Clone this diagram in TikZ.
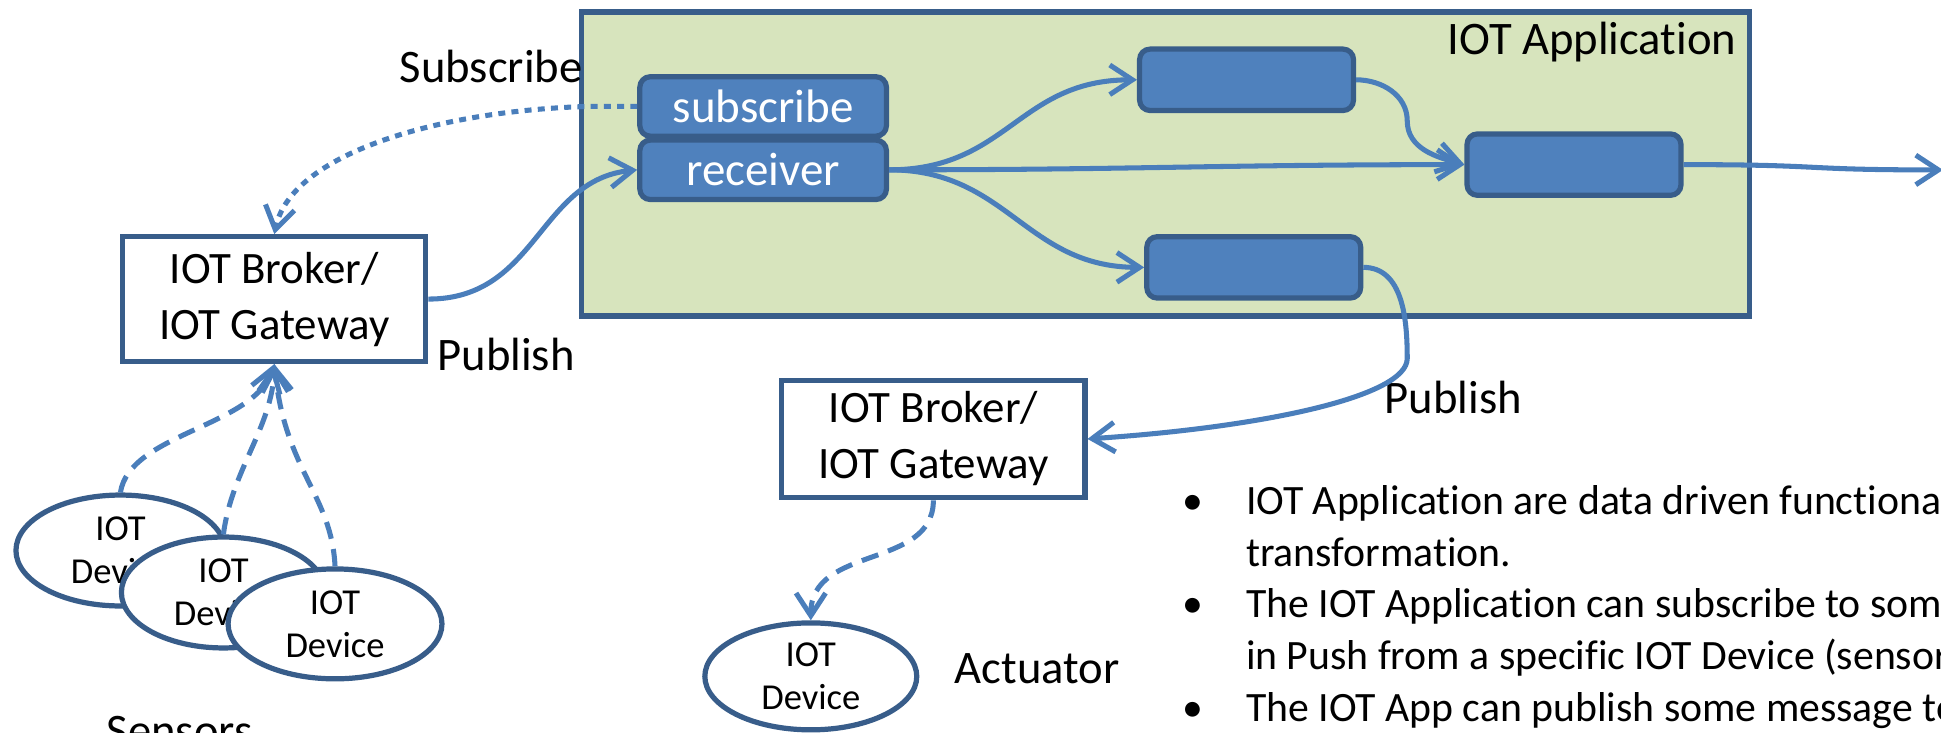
\documentclass[tikz,border=0pt]{standalone}
\usepackage{fontspec}
\setmainfont[Ligatures=NoCommon]{Carlito}
\usepackage{tikz}
\usetikzlibrary{
  arrows.meta, % for the open arrow heads
  positioning,
  shapes.geometric}
\definecolor{appgreen}{HTML}{D7E4BD}
\definecolor{boxblue}{HTML}{4F81BD}
\definecolor{rimblue}{HTML}{385D8A}
\definecolor{wireblue}{HTML}{4A7EBB}
\tikzstyle{appbox} = [draw=rimblue, fill=appgreen, line width=1.5pt, minimum width=11.79cm, minimum height=3.07cm]
\tikzstyle{stage} = [draw=rimblue, fill=boxblue, line width=1.5pt, rounded corners=3pt, minimum width=2.16cm, minimum height=0.62cm, text=white, font=\fontsize{13.5}{16}\selectfont]
\tikzstyle{broker} = [draw=rimblue, fill=white, line width=1.5pt, align=center, minimum width=3.06cm, font=\fontsize{12.9}{16.1}\selectfont]
\tikzstyle{device} = [ellipse, draw=rimblue, fill=white, line width=1.5pt, align=center, inner sep=0pt, font=\fontsize{10.5}{12.3}\selectfont]
\tikzstyle{tag} = [font=\fontsize{13.4}{16}\selectfont, anchor=base, inner sep=0pt]
\tikzstyle{bullet} = [font=\fontsize{12}{14.8}\selectfont, anchor=base west, inner sep=0pt]
\tikzstyle{wire} = [draw=wireblue, line width=1.45pt, ->]
\tikzstyle{dotwire} = [wire, dash pattern=on 2pt off 1.8pt]
\tikzstyle{dashwire} = [wire, dash pattern=on 5pt off 3pt]

\begin{document}
\begin{tikzpicture}[ node distance=0.64cm, >={Straight Barb[length=6.5pt,width=8.5pt]} ]
\useasboundingbox (0,0) rectangle (19.6,-7.4);
\clip (0,0) rectangle (19.6,-7.4);

% the application with its stages
\node[appbox] (app) at (11.77,-1.656) {};
\node[tag, anchor=base east] (apptitle) at (17.54,-0.555) {IOT Application};
\node[stage, minimum width=2.49cm, minimum height=0.6cm] (sub) at (7.706,-1.075) {subscribe};
\node[stage, minimum width=2.49cm, minimum height=0.6cm, below of=sub] (recv) {receiver};
\node[stage] (stepa) at (12.5875,-0.806) {};
\node[stage] (stepb) at (12.66,-2.70) {};
\node[stage] (stepc) at (15.894,-1.6625) {};
\coordinate (feed) at (19.62,-1.716);

% brokers and devices
\node[broker, minimum height=1.26cm] (broker1) at (2.77,-3.02) {IOT Broker/\\IOT Gateway};
\node[broker, minimum height=1.18cm] (broker2) at (9.425,-4.4325) {IOT Broker/\\IOT Gateway};
\node[device, minimum width=2.11cm, minimum height=1.12cm] (dev1) at (1.216,-5.559) {IOT\\Device};
\node[device, minimum width=2.06cm, minimum height=1.12cm] (dev2) at (2.256,-5.983) {IOT\\Device};
\node[device, minimum width=2.16cm, minimum height=1.11cm] (dev3) at (3.383,-6.30) {IOT\\Device};
\node[device, minimum width=2.14cm, minimum height=1.08cm] (dev4) at (8.1875,-6.83) {IOT\\Device};

\node[tag] (subtag) at (4.96,-0.8375) {Subscribe};
\node[tag] (pubtag1) at (5.11,-3.7375) {Publish};
\node[tag] (pubtag2) at (14.675,-4.18) {Publish};
\node[tag] (acttag) at (10.475,-6.9) {Actuator};
\node[tag] (sentag) at (1.8125,-7.54) {Sensors};

% flows
\draw[wire] (recv.east) .. controls +(1.2,0) and +(-1.2,0) .. (stepa.west);
\draw[wire] (recv.east) .. controls +(2.5,0) and +(-2.5,0) .. (stepc.west);
\draw[wire] (recv.east) .. controls +(1.2,0) and +(-1.2,0) .. (stepb.west);
\draw[wire] (stepa.east) to[out=0,in=90] (14.21,-1.22) to[out=-90,in=165] (stepc.west);
\draw[wire] (stepc.east) .. controls +(1.5,0) and +(-1.5,0) .. (feed);
\draw[wire] (stepb.east) to[out=0,in=90] (14.21,-3.62) .. controls +(0,-0.38) and +(1.8,0.12) .. (broker2.east);
\draw[wire] (broker1.east) .. controls +(1.1,0) and +(-1.0,-0.1) .. (recv.west);
\draw[dotwire] (sub.west) -- ++(-0.5,0) .. controls (4.4,-1.12) and (2.94,-1.56) .. (broker1.north);

\draw[dashwire] (dev1.north) .. controls (1.31,-4.375) and (2.5625,-4.3125) .. (broker1.south);
\draw[dashwire] (dev2.north) .. controls (2.3375,-4.75) and (2.75,-4.3125) .. (broker1.south);
\draw[dashwire] (dev3.north) .. controls (3.35,-5.0) and (2.875,-4.75) .. (broker1.south);
\draw[dashwire] (broker2.south) .. controls (9.425,-5.75) and (8.1875,-5.5) .. (dev4.north);

% notes
\node[bullet, anchor=base] (dot1) at (12.045,-5.2) {•};
\node[bullet] (line1) at (12.575,-5.2) {IOT Application are data driven functional};
\node[bullet] (line2) at (12.575,-5.725) {transformation.};
\node[bullet, anchor=base] (dot2) at (12.045,-6.2375) {•};
\node[bullet] (line3) at (12.575,-6.2375) {The IOT Application can subscribe to some};
\node[bullet] (line4) at (12.575,-6.7625) {in Push from a specific IOT Device (sensor)};
\node[bullet, anchor=base] (dot3) at (12.045,-7.2875) {•};
\node[bullet] (line5) at (12.575,-7.2875) {The IOT App can publish some message to};

\end{tikzpicture}
\end{document}
